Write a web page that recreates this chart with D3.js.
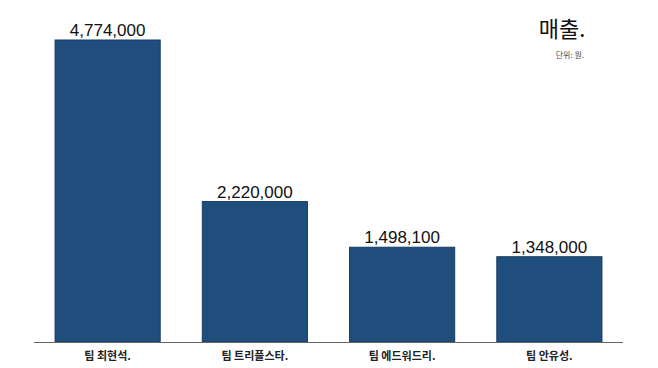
<!DOCTYPE html>
<html>
<head>
<meta charset="utf-8">
<script src="https://cdn.jsdelivr.net/npm/d3@7"></script>
<style>
  body { margin: 0; background: #fff; }
  text { font-family: "Noto Sans CJK KR", "Noto Sans", sans-serif; }
</style>
</head>
<body>
<svg id="chart"></svg>
<script>
const teams = ["팀 최현석.", "팀 트리플스타.", "팀 에드워드리.", "팀 안유성."];
const sales = [4774000, 2220000, 1498100, 1348000];
const title = "매출.";
const unit = "단위: 원.";

const width = 658, height = 368;
const svg = d3.select("#chart").attr("width", width).attr("height", height);

const baseY = 342, topY = 40;

const x = d3.scaleBand()
    .domain(teams)
    .range([34, 623])
    .paddingInner(0.286)
    .paddingOuter(0.143);

const y = d3.scaleLinear()
    .domain([0, d3.max(sales)])
    .range([baseY, topY]);

const data = teams.map((t, i) => ({name: t, value: sales[i]}));

svg.selectAll("rect.bar")
    .data(data)
    .enter().append("rect")
    .attr("class", "bar")
    .attr("x", d => x(d.name))
    .attr("y", d => y(d.value))
    .attr("width", x.bandwidth())
    .attr("height", d => baseY - y(d.value))
    .style("fill", "#1f4e7d")
    .style("stroke", "#173c62")
    .style("stroke-width", 1);

// 값 라벨
svg.selectAll("text.val")
    .data(data)
    .enter().append("text")
    .attr("class", "val")
    .attr("x", d => x(d.name) + x.bandwidth() / 2)
    .attr("y", d => y(d.value) - 4)
    .attr("text-anchor", "middle")
    .style("font-family", "'Liberation Sans', Arial, sans-serif")
    .style("font-size", "17px")
    .style("fill", "#111")
    .text(d => d3.format(",")(d.value));

// x축
svg.append("line")
    .attr("x1", 34).attr("x2", 623)
    .attr("y1", baseY + 0.5).attr("y2", baseY + 0.5)
    .style("stroke", "#666")
    .style("stroke-width", 1);

svg.selectAll("text.cat")
    .data(teams)
    .enter().append("text")
    .attr("class", "cat")
    .attr("x", d => x(d) + x.bandwidth() / 2)
    .attr("y", 360)
    .attr("text-anchor", "middle")
    .style("font-size", "11px")
    .style("font-weight", "bold")
    .style("fill", "#222")
    .text(d => d);

svg.append("text")
    .attr("x", 562).attr("y", 37)
    .attr("text-anchor", "middle")
    .style("font-size", "22px")
    .style("fill", "#111")
    .text(title);

svg.append("text")
    .attr("x", 584).attr("y", 58)
    .attr("text-anchor", "end")
    .style("font-size", "8px")
    .style("fill", "#444")
    .text(unit);
</script>
</body>
</html>
